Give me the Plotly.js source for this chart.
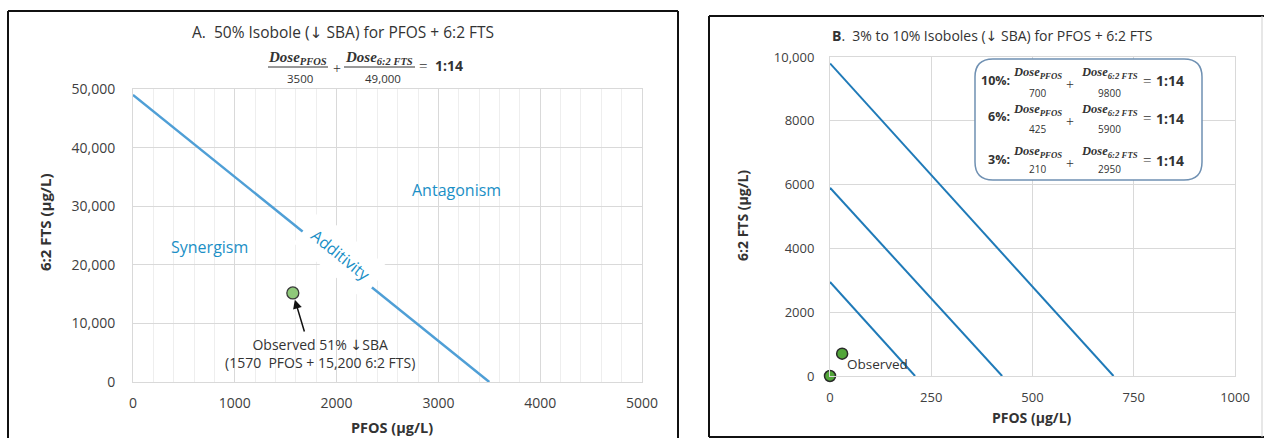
<!DOCTYPE html>
<html>
<head>
<meta charset="utf-8">
<script src="https://cdn.plot.ly/plotly-3.0.1.min.js"></script>
<style>html,body{margin:0;padding:0;background:#fff;}#chart{width:1264px;height:438px;}</style>
</head>
<body>
<div id="chart"></div>
<script>
// ---------- data ----------
// Panel A: 50% isobole
const isoA_pfos = [0, 3500];
const isoA_fts = [49000, 0];
const obsA_pfos = [1570];
const obsA_fts = [15200];

// Panel B: 3%, 6%, 10% isoboles
const iso10_pfos = [0, 700];
const iso10_fts = [9800, 0];
const iso6_pfos = [0, 425];
const iso6_fts = [5900, 0];
const iso3_pfos = [0, 210];
const iso3_fts = [2950, 0];
const obsB_pfos = [0, 30];
const obsB_fts = [0, 700];

// tick labels
const tickA_x = [0, 1000, 2000, 3000, 4000, 5000];
const tickA_y = [0, 10000, 20000, 30000, 40000, 50000];
const tickB_x = [0, 250, 500, 750, 1000];
const tickB_xText = ['0', '250', '500', '750', '1000'];
const tickB_y = [0, 2000, 4000, 6000, 8000, 10000];
const tickB_yText = ['0', '2000', '4000', '6000', '8000', '10,000'];

// ---------- helpers ----------
const W = 1264, H = 438;
const px = x => x / W;
const py = y => 1 - y / H;
const SANS = 'Open Sans';
const SERIF = 'Liberation Serif';
const TXT = '#333333';
const ARROW = '<span style="font-family:DejaVu Sans">↓</span>';

const traces = [
  {x: isoA_pfos, y: isoA_fts, xaxis: 'x', yaxis: 'y', mode: 'lines',
   line: {color: '#4f9fd6', width: 2.5}, hoverinfo: 'skip'},
  {x: obsA_pfos, y: obsA_fts, xaxis: 'x', yaxis: 'y', mode: 'markers',
   marker: {size: 12, color: '#8fc97a', line: {color: '#3a3a3a', width: 1.3}}},
  {x: iso10_pfos, y: iso10_fts, xaxis: 'x2', yaxis: 'y2', mode: 'lines',
   line: {color: '#1f7ab8', width: 2}},
  {x: iso6_pfos, y: iso6_fts, xaxis: 'x2', yaxis: 'y2', mode: 'lines',
   line: {color: '#1f7ab8', width: 2}},
  {x: iso3_pfos, y: iso3_fts, xaxis: 'x2', yaxis: 'y2', mode: 'lines',
   line: {color: '#1f7ab8', width: 2}},
  {x: obsB_pfos, y: obsB_fts, xaxis: 'x2', yaxis: 'y2', mode: 'markers', cliponaxis: false,
   marker: {size: 11, color: '#52a63a', line: {color: '#2a2a2a', width: 1.5}}}
];

const gridMajor = '#d9d9d9';
const axBase = {
  showgrid: true, gridcolor: gridMajor, gridwidth: 1, zeroline: false,
  showline: true, linecolor: gridMajor, linewidth: 1, mirror: true,
  ticks: '', fixedrange: true
};

// annotations
const ann = [];
function T(text, x, y, size, opts) {
  ann.push(Object.assign({text: text, x: px(x), y: py(y), xref: 'paper', yref: 'paper',
    showarrow: false, xanchor: 'center', yanchor: 'middle',
    font: {family: SANS, size: size, color: TXT}}, opts || {}));
}
const mathFont = s => ({family: SERIF, size: s, color: TXT, weight: 'bold', style: 'italic'});
const boldFont = s => ({family: SANS, size: s, color: TXT, weight: 'bold'});

// Panel A titles
T('A.  50% Isobole (' + ARROW + ' SBA) for PFOS + 6:2 FTS', 343, 32, 15.5);
// equation A
T('Dose<sub>PFOS</sub>', 297, 58, 15, {font: mathFont(15)});
T('3500', 300, 78, 11.5);
T('+', 337, 69, 14, {font: {family: SERIF, size: 14, color: TXT}});
T('Dose<sub>6:2 FTS</sub>', 379, 58, 15, {font: mathFont(15)});
T('49,000', 383, 78, 11.5);
T('=', 423, 66, 15, {font: {family: SERIF, size: 15, color: TXT}});
T('1:14', 449, 66, 14, {font: boldFont(14)});

// axis titles A
T('6:2 FTS (µg/L)', 45, 222, 15, {textangle: -90, font: boldFont(15)});
T('PFOS (µg/L)', 392, 427, 14.5, {font: boldFont(14.5)});

// region labels A
ann.push({text: 'Synergism', x: 750, y: 23000, xref: 'x', yref: 'y', showarrow: false,
  font: {family: SANS, size: 16, color: '#1b8fc6'}});
ann.push({text: 'Antagonism', x: 3180, y: 32800, xref: 'x', yref: 'y', showarrow: false,
  font: {family: SANS, size: 16, color: '#1b8fc6'}});
ann.push({text: 'Additivity', x: 2040, y: 21700, xref: 'x', yref: 'y', showarrow: false,
  textangle: 39, bgcolor: '#ffffff', borderpad: 9,
  font: {family: SANS, size: 16, color: '#1b8fc6'}});
// observed A
ann.push({text: '', x: obsA_pfos[0], y: obsA_fts[0], xref: 'x', yref: 'y', showarrow: true,
  ax: 12, ay: 40, arrowhead: 2, arrowsize: 1.2, arrowwidth: 1.5, arrowcolor: '#111', standoff: 7});
ann.push({text: 'Observed 51% ' + ARROW + 'SBA<br>(1570  PFOS + 15,200 6:2 FTS)', x: 1840, y: 4800,
  xref: 'x', yref: 'y', showarrow: false,
  font: {family: SANS, size: 14, color: TXT}});

// Panel B title
T('<b>B</b>.  3% to 10% Isoboles (' + ARROW + ' SBA) for PFOS + 6:2 FTS', 830, 35, 14, {xanchor: 'left'});
T('6:2 FTS (µg/L)', 742, 216, 14, {textangle: -90, font: boldFont(14)});
T('PFOS (µg/L)', 1032, 417, 14, {font: boldFont(14)});
ann.push({text: 'Observed', x: 36, y: 380, xref: 'x2', yref: 'y2', xanchor: 'left', showarrow: false,
  font: {family: SANS, size: 13.5, color: TXT}});

// equation box B
const rows = [
  {lab: '10%:', d1: '700', d2: '9800', yl: 80, yn: 73, yd: 93, yb: 84},
  {lab: '6%:', d1: '425', d2: '5900', yl: 117, yn: 110, yd: 129, yb: 121},
  {lab: '3%:', d1: '210', d2: '2950', yl: 159, yn: 152, yd: 169, yb: 163}
];
const shapes = [];
rows.forEach(r => {
  T(r.lab, 1012, r.yl, 12.5, {xanchor: 'right', font: boldFont(12.5)});
  T('Dose<sub>PFOS</sub>', 1037, r.yn, 12.5, {font: mathFont(12.5)});
  T(r.d1, 1037, r.yd, 10);
  T('+', 1070, r.yb, 14, {font: {family: SERIF, size: 14, color: TXT}});
  T('Dose<sub>6:2 FTS</sub>', 1109, r.yn, 12.5, {font: mathFont(12.5)});
  T(r.d2, 1109, r.yd, 10);
  T('=', 1147, r.yb - 3, 15, {font: {family: SERIF, size: 15, color: TXT}});
  T('1:14', 1170, r.yb - 3, 14, {font: boldFont(14)});
  shapes.push({type: 'line', xref: 'paper', yref: 'paper', x0: px(1014), x1: px(1061),
    y0: py(r.yb), y1: py(r.yb), line: {color: TXT, width: 1}});
  shapes.push({type: 'line', xref: 'paper', yref: 'paper', x0: px(1080), x1: px(1138),
    y0: py(r.yb), y1: py(r.yb), line: {color: TXT, width: 1}});
});

// fraction bars A
shapes.push({type: 'line', xref: 'paper', yref: 'paper', x0: px(268), x1: px(328),
  y0: py(67), y1: py(67), line: {color: TXT, width: 1}});
shapes.push({type: 'line', xref: 'paper', yref: 'paper', x0: px(344), x1: px(415),
  y0: py(67), y1: py(67), line: {color: TXT, width: 1}});

// rounded box B
(function () {
  const x0 = 975, x1 = 1202, y0 = 59, y1 = 180, r = 18;
  const P = (x, y) => (x / W).toFixed(5) + ',' + (1 - y / H).toFixed(5);
  const path = 'M' + P(x0 + r, y0) + ' L' + P(x1 - r, y0) +
    ' Q' + P(x1, y0) + ' ' + P(x1, y0 + r) +
    ' L' + P(x1, y1 - r) + ' Q' + P(x1, y1) + ' ' + P(x1 - r, y1) +
    ' L' + P(x0 + r, y1) + ' Q' + P(x0, y1) + ' ' + P(x0, y1 - r) +
    ' L' + P(x0, y0 + r) + ' Q' + P(x0, y0) + ' ' + P(x0 + r, y0) + ' Z';
  shapes.push({type: 'path', xref: 'paper', yref: 'paper', path: path,
    fillcolor: '#ffffff', line: {color: '#6f90b2', width: 1.5}, layer: 'above'});
})();

// panel borders
function L(x0, y0, x1, y1, c, w) {
  shapes.push({type: 'line', xref: 'paper', yref: 'paper', x0: px(x0), y0: py(y0), x1: px(x1), y1: py(y1),
    line: {color: c, width: w}});
}
L(8, 11, 678, 11, '#111', 2);
L(8, 11, 8, 438, '#111', 2);
L(678, 11, 678, 438, '#111', 2);
L(709, 16, 1264, 16, '#111', 2);
L(709, 16, 709, 437, '#111', 2);
L(709, 437, 1264, 437, '#111', 2);
L(1262, 16, 1262, 437, '#cfcfcf', 1);

const layout = {
  width: W, height: H, margin: {l: 0, r: 0, t: 0, b: 0},
  paper_bgcolor: '#ffffff', plot_bgcolor: '#ffffff', showlegend: false,
  xaxis: Object.assign({}, axBase, {domain: [px(133), px(642)], range: [0, 5000], anchor: 'y',
    tickvals: tickA_x, tickformat: 'd', ticklabelstandoff: 8,
    minor: {dtick: 200, showgrid: true, gridcolor: '#eeeeee', gridwidth: 1},
    tickfont: {family: SANS, size: 14, color: '#404040'}}),
  yaxis: Object.assign({}, axBase, {domain: [py(382), py(89)], range: [0, 50000], anchor: 'x',
    tickvals: tickA_y, tickformat: ',d', ticklabelstandoff: 14,
    tickfont: {family: SANS, size: 14, color: '#404040'}}),
  xaxis2: Object.assign({}, axBase, {domain: [px(830), px(1235)], range: [0, 1000], anchor: 'y2',
    tickvals: tickB_x, ticktext: tickB_xText, ticklabelstandoff: 9,
    tickfont: {family: SANS, size: 13, color: '#404040'}}),
  yaxis2: Object.assign({}, axBase, {domain: [py(376), py(57)], range: [0, 10000], anchor: 'x2',
    tickvals: tickB_y, ticktext: tickB_yText, ticklabelstandoff: 12,
    tickfont: {family: SANS, size: 13, color: '#404040'}}),
  annotations: ann,
  shapes: shapes
};

Plotly.newPlot('chart', traces, layout, {staticPlot: true, displayModeBar: false});
</script>
</body>
</html>
